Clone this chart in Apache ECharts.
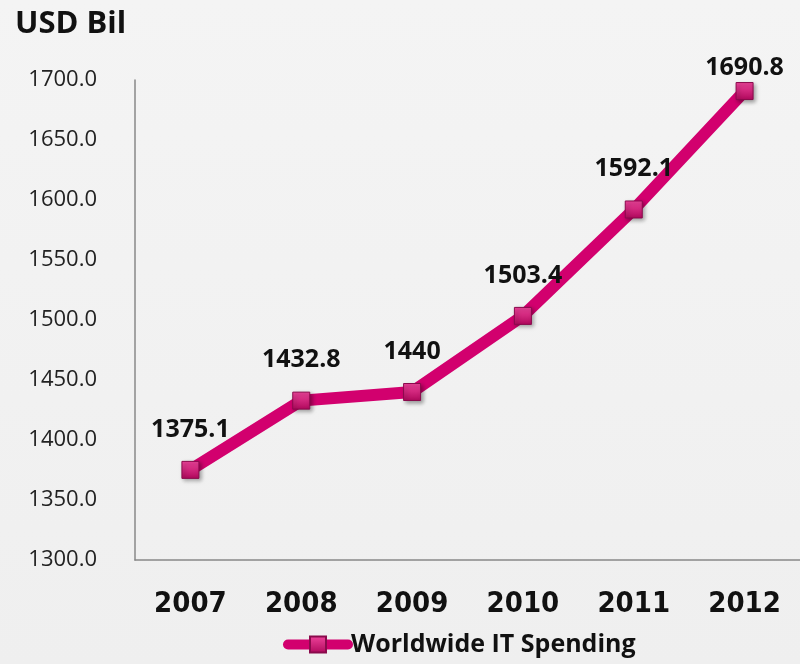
<!DOCTYPE html>
<html>
<head>
<meta charset="utf-8">
<script src="https://cdn.jsdelivr.net/npm/echarts@6/dist/echarts.min.js"></script>
<style>
  html, body { margin: 0; padding: 0; }
  #container { width: 800px; height: 664px; background: linear-gradient(#f4f4f4, #efefef); }
</style>
</head>
<body>
<div id="container"></div>
<script>
var years = ['2007', '2008', '2009', '2010', '2011', '2012'];
var spending = [1375.1, 1432.8, 1440, 1503.4, 1592.1, 1690.8];
var yTicks = [1300, 1350, 1400, 1450, 1500, 1550, 1600, 1650, 1700];

var dom = document.getElementById('container');
var myChart = echarts.init(dom);

var pink = '#d2006e';

var option = {
    backgroundColor: 'transparent',
    title: {
        text: 'USD Bil',
        left: 10,
        top: 4,
        textStyle: { fontFamily: 'Open Sans', fontWeight: 'bold', fontSize: 31, color: '#111' }
    },
    legend: {
        bottom: 2,
        left: 278,
        itemWidth: 60,
        itemHeight: 20,
        itemGap: 0,
        lineStyle: { width: 10, cap: 'round' },
        textStyle: { fontFamily: 'Open Sans', fontWeight: 'bold', fontSize: 25, color: '#111', padding: [0, 0, 0, -2] },
        data: ['Worldwide IT Spending']
    },
    grid: {
        left: 135,
        top: 80,
        width: 676,
        height: 480
    },
    xAxis: {
        type: 'category',
        data: years,
        axisLine: { lineStyle: { color: '#888', width: 1.5 } },
        axisTick: { show: false },
        axisLabel: {
            margin: 30,
            fontFamily: 'DejaVu Sans Condensed',
            fontWeight: 'bold',
            fontSize: 29,
            color: '#111'
        }
    },
    yAxis: {
        type: 'value',
        min: 1300,
        max: 1700,
        interval: 50,
        splitLine: { show: false },
        axisLine: { show: true, lineStyle: { color: '#888', width: 1.5 } },
        axisTick: { show: false },
        axisLabel: {
            margin: 38,
            fontFamily: 'Open Sans',
            fontSize: 22,
            color: '#222',
            formatter: function (v) { return yTicks.indexOf(v) >= 0 ? v.toFixed(1) : ''; }
        }
    },
    series: [
        {
            name: 'Worldwide IT Spending',
            type: 'line',
            data: spending.map(function (v, i) {
                var item = { value: v };
                if (i === spending.length - 1) {
                    item.label = { distance: 2 };
                }
                return item;
            }),
            symbol: 'rect',
            symbolSize: 17,
            lineStyle: { color: pink, width: 12 },
            itemStyle: {
                color: {
                    type: 'linear', x: 0, y: 0, x2: 0, y2: 1,
                    colorStops: [
                        { offset: 0, color: '#f0449c' },
                        { offset: 1, color: '#b0085c' }
                    ]
                },
                borderColor: '#8a0a4c',
                borderWidth: 1,
                shadowColor: 'rgba(0,0,0,0.35)',
                shadowBlur: 4,
                shadowOffsetX: 2,
                shadowOffsetY: 2
            },
            label: {
                show: true,
                position: 'top',
                distance: 19,
                fontFamily: 'Open Sans',
                fontWeight: 'bold',
                fontSize: 25,
                color: '#111'
            }
        }
    ]
};

if (option && typeof option === 'object') {
    myChart.setOption(option, true);
}
</script>
</body>
</html>
